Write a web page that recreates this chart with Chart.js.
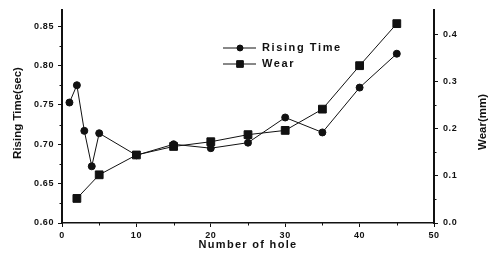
<!DOCTYPE html>
<html>
<head>
<meta charset="utf-8">
<script src="https://cdn.jsdelivr.net/npm/chart.js@4/dist/chart.umd.min.js"></script>
<style>
  html, body { margin: 0; padding: 0; background: #fff; }
</style>
</head>
<body>
<canvas id="chart" width="496" height="261"></canvas>
<script>
'use strict';

// values
var holes = [1, 2, 3, 4, 5, 10, 15, 20, 25, 30, 35, 40, 45];
var risingTime = [0.753, 0.775, 0.717, 0.672, 0.714, 0.686, 0.700, 0.695, 0.702, 0.734, 0.715, 0.772, 0.815];
var wearHoles = [2, 5, 10, 15, 20, 25, 30, 35, 40, 45];
var wear = [0.052, 0.102, 0.144, 0.162, 0.172, 0.187, 0.196, 0.241, 0.333, 0.422];

var holeTicks = [0, 10, 20, 30, 40, 50];
var timeTicks = [0.60, 0.65, 0.70, 0.75, 0.80, 0.85];
var wearTicks = [0.0, 0.1, 0.2, 0.3, 0.4];

var ink = '#111';
var tickFont = { family: '"Liberation Sans", Arial, sans-serif', size: 9, weight: 'bold' };

function toPoints(xs, ys) {
	return xs.map(function (x, i) { return { x: x, y: ys[i] }; });
}

function fixedTicks(list) {
	return function (scale) {
		scale.ticks = list.map(function (v) { return { value: v }; });
	};
}

function midpoints(list) {
	var out = [];
	for (var i = 0; i < list.length - 1; i++) {
		out.push((list[i] + list[i + 1]) / 2);
	}
	return out;
}

var decor = {
	id: 'decor',
	beforeDraw: function (chart) {
		chart.ctx.letterSpacing = '0.6px';
	},
	afterDraw: function (chart) {
		var ctx = chart.ctx;
		var area = chart.chartArea;
		var sx = chart.scales.x, sy = chart.scales.y, sy1 = chart.scales.y1;

		ctx.save();
		ctx.strokeStyle = ink;
		ctx.lineWidth = 1;

		// minor ticks
		ctx.beginPath();
		midpoints(holeTicks).forEach(function (v) {
			var px = Math.round(sx.getPixelForValue(v)) + 0.5;
			ctx.moveTo(px, area.bottom);
			ctx.lineTo(px, area.bottom + 2.5);
		});
		midpoints(timeTicks).concat([0.875]).forEach(function (v) {
			if (v > sy.max) return;
			var py = Math.round(sy.getPixelForValue(v)) + 0.5;
			ctx.moveTo(area.left, py);
			ctx.lineTo(area.left - 2.5, py);
		});
		midpoints(wearTicks).forEach(function (v) {
			var py = Math.round(sy1.getPixelForValue(v)) + 0.5;
			ctx.moveTo(area.right, py);
			ctx.lineTo(area.right + 2.5, py);
		});
		ctx.stroke();

		// axis titles
		ctx.fillStyle = ink;
		ctx.textAlign = 'center';
		ctx.textBaseline = 'middle';
		ctx.font = 'bold 11px "Liberation Sans", Arial, sans-serif';
		ctx.letterSpacing = '1.3px';
		ctx.fillText('Number of hole', (area.left + area.right) / 2, 245);

		ctx.letterSpacing = '0px';
		ctx.font = 'bold 11.5px "Liberation Sans", Arial, sans-serif';
		ctx.save();
		ctx.translate(18, 113);
		ctx.rotate(-Math.PI / 2);
		ctx.fillText('Rising Time(sec)', 0, 0);
		ctx.restore();

		ctx.save();
		ctx.translate(483, 122);
		ctx.rotate(-Math.PI / 2);
		ctx.fillText('Wear(mm)', 0, 0);
		ctx.restore();

		// legend inside the plot
		ctx.textAlign = 'left';
		ctx.font = 'bold 11px "Liberation Sans", Arial, sans-serif';
		ctx.letterSpacing = '1.6px';
		chart.data.datasets.forEach(function (ds, i) {
			var ly = 48 + i * 16;
			ctx.beginPath();
			ctx.moveTo(223, ly);
			ctx.lineTo(256, ly);
			ctx.lineWidth = 1;
			ctx.stroke();
			ctx.fillStyle = ink;
			Chart.helpers.drawPoint(ctx, {
				pointStyle: ds.pointStyle,
				radius: ds.pointRadius * 0.85,
				rotation: 0,
				borderWidth: 1
			}, 240, ly);
			ctx.fill();
			ctx.fillText(ds.label, 262, ly);
		});
		ctx.restore();
	}
};

new Chart(document.getElementById('chart'), {
	type: 'line',
	data: {
		datasets: [
			{
				label: 'Rising Time',
				data: toPoints(holes, risingTime),
				yAxisID: 'y',
				borderColor: ink,
				borderWidth: 1,
				backgroundColor: ink,
				pointStyle: 'circle',
				pointRadius: 3.5,
				pointBorderWidth: 1,
				tension: 0,
			},
			{
				label: 'Wear',
				data: toPoints(wearHoles, wear),
				yAxisID: 'y1',
				borderColor: ink,
				borderWidth: 1,
				backgroundColor: ink,
				pointStyle: 'rect',
				pointRadius: 5.5,
				pointBorderWidth: 1,
				tension: 0,
			},
		],
	},
	options: {
		responsive: false,
		animation: false,
		events: [],
		layout: { padding: { top: 8, left: 0, right: 0, bottom: 0 } },
		plugins: {
			legend: { display: false },
			tooltip: { enabled: false },
		},
		scales: {
			x: {
				type: 'linear',
				min: 0,
				max: 50,
				afterBuildTicks: fixedTicks(holeTicks),
				afterFit: function (scale) { scale.height = 38; },
				border: { color: ink, width: 1.5 },
				grid: { drawOnChartArea: false, tickLength: 4, color: ink, tickWidth: 1 },
				ticks: { color: ink, font: tickFont, padding: 3, maxRotation: 0, autoSkip: false },
			},
			y: {
				type: 'linear',
				position: 'left',
				min: 0.6,
				max: 0.87,
				afterBuildTicks: fixedTicks(timeTicks),
				afterFit: function (scale) { scale.width = 62; },
				border: { color: ink, width: 2 },
				grid: { drawOnChartArea: false, tickLength: 4, color: ink, tickWidth: 1 },
				ticks: {
					color: ink,
					font: tickFont,
					padding: 4,
					autoSkip: false,
					callback: function (v) { return v.toFixed(2); },
				},
			},
			y1: {
				type: 'linear',
				position: 'right',
				min: 0,
				max: 0.45,
				afterBuildTicks: fixedTicks(wearTicks),
				afterFit: function (scale) { scale.width = 62; },
				border: { color: ink, width: 2 },
				grid: { drawOnChartArea: false, tickLength: 4, color: ink, tickWidth: 1 },
				ticks: {
					color: ink,
					font: tickFont,
					padding: 5,
					autoSkip: false,
					callback: function (v) { return v.toFixed(1); },
				},
			},
		},
	},
	plugins: [decor],
});
</script>
</body>
</html>
